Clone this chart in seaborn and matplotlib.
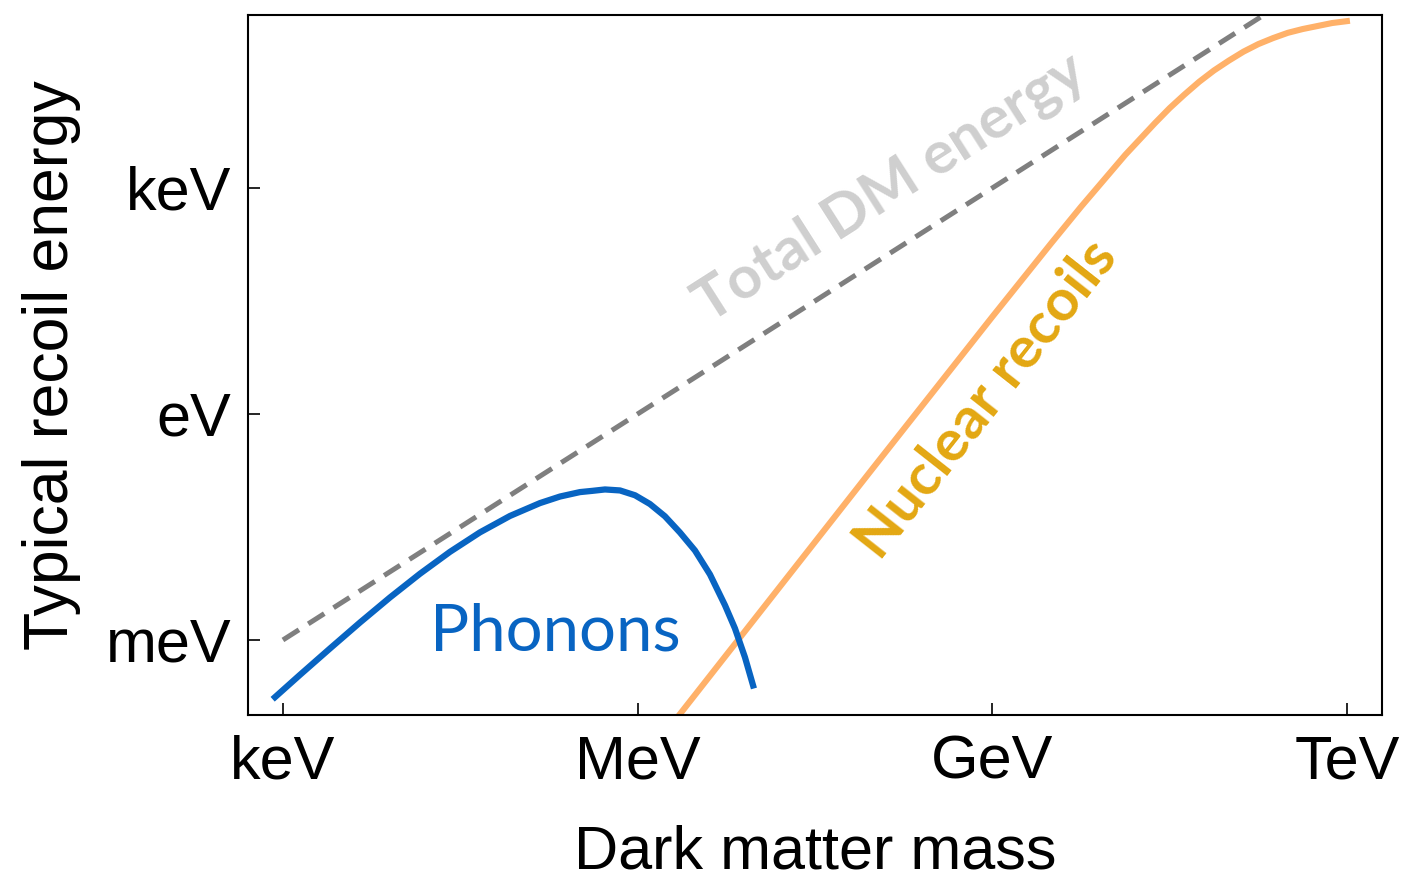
import numpy as np
import pandas as pd
import matplotlib
matplotlib.use("Agg")
import matplotlib.pyplot as plt
import seaborn as sns

# Dark matter mass and recoil energy, as log10 of the energy in eV
phonon_log_mass = [2.913, 3.144, 3.398, 3.651, 3.905, 4.159, 4.413, 4.666, 4.920, 5.174,
                   5.343, 5.512, 5.614, 5.724, 5.851, 5.978, 6.104, 6.231, 6.358, 6.485,
                   6.612, 6.739, 6.823, 6.908, 6.984]
phonon_log_energy = [-3.787, -3.463, -3.113, -2.769, -2.436, -2.121, -1.830, -1.572, -1.354, -1.183,
                     -1.096, -1.037, -1.021, -1.002, -1.015, -1.079, -1.195, -1.358, -1.573, -1.812,
                     -2.130, -2.539, -2.845, -3.230, -3.644]

nuclear_log_mass = [6.33, 7.00, 8.00, 9.00, 9.50, 9.75, 10.00, 10.125, 10.25, 10.375,
                    10.50, 10.625, 10.75, 10.875, 11.00, 11.125, 11.25, 11.375, 11.50, 11.625,
                    11.75, 11.875, 12.025]
nuclear_log_energy = [-4.04, -2.70, -0.70, 1.29, 2.27, 2.75, 3.21, 3.44, 3.65, 3.86,
                      4.06, 4.24, 4.41, 4.56, 4.69, 4.81, 4.91, 4.99, 5.06, 5.11,
                      5.15, 5.19, 5.22]

total_log_mass = [3.0, 12.0]
total_log_energy = [-3.0, 6.0]

x_tick_log = [3, 6, 9, 12]
x_tick_labels = ["keV", "MeV", "GeV", "TeV"]
y_tick_log = [-3, 0, 3]
y_tick_labels = ["meV", "eV", "keV"]

phonons = pd.DataFrame({"mass": np.power(10.0, phonon_log_mass),
                        "energy": np.power(10.0, phonon_log_energy)})
nuclear = pd.DataFrame({"mass": np.power(10.0, nuclear_log_mass),
                        "energy": np.power(10.0, nuclear_log_energy)})
total = pd.DataFrame({"mass": np.power(10.0, total_log_mass),
                      "energy": np.power(10.0, total_log_energy)})

sns.set_theme(style="white")
plt.rcParams["font.family"] = ["Liberation Sans", "DejaVu Sans"]

fig = plt.figure(figsize=(14.08, 8.8), dpi=100)
ax = fig.add_axes([0.1761, 0.1875, 0.8054, 0.7955])
ax.set_xscale("log")
ax.set_yscale("log")
ax.set_xlim(10 ** 2.704, 10 ** 12.296)
ax.set_ylim(10 ** -3.996, 10 ** 5.297)

BLUE = "#0864C2"
ORANGE_LINE = "#FFB169"
ORANGE_TEXT = "#E3A712"
GREY_LINE = "#7F7F7F"
GREY_TEXT = "#CFCFCF"

sns.lineplot(data=total, x="mass", y="energy", ax=ax, sort=False, color=GREY_LINE,
             linewidth=3.6, estimator=None)
ax.lines[-1].set_dashes((3.8, 2.2))
sns.lineplot(data=nuclear, x="mass", y="energy", ax=ax, sort=False, color=ORANGE_LINE,
             linewidth=4.4, estimator=None)
sns.lineplot(data=phonons, x="mass", y="energy", ax=ax, sort=False, color=BLUE,
             linewidth=4.5, estimator=None)
for ln in ax.lines:
    ln.set_solid_capstyle("butt")
    ln.set_dash_capstyle("butt")
    ln.set_solid_joinstyle("round")

ax.set_xticks(np.power(10.0, x_tick_log))
ax.set_xticklabels(x_tick_labels)
ax.set_yticks(np.power(10.0, y_tick_log))
ax.set_yticklabels(y_tick_labels)
ax.minorticks_off()
ax.tick_params(axis="both", direction="in", length=8.5, width=1.2, color="black",
               labelsize=44, labelcolor="black", left=True, bottom=True)
ax.tick_params(axis="x", pad=14)
ax.tick_params(axis="y", pad=12)
for sp in ax.spines.values():
    sp.set_color("black")
    sp.set_linewidth(1.5)

ax.set_xlabel("Dark matter mass", fontsize=44, color="black", labelpad=24)
ax.set_ylabel("Typical recoil energy", fontsize=45, color="black", labelpad=18)


def screen_angle(lx0, ly0, lx1, ly1):
    p0 = ax.transData.transform((10 ** lx0, 10 ** ly0))
    p1 = ax.transData.transform((10 ** lx1, 10 ** ly1))
    return np.degrees(np.arctan2(p1[1] - p0[1], p1[0] - p0[0]))


ang_total = screen_angle(total_log_mass[0], total_log_energy[0],
                         total_log_mass[1], total_log_energy[1])
ang_nuclear = screen_angle(nuclear_log_mass[1], nuclear_log_energy[1],
                           nuclear_log_mass[3], nuclear_log_energy[3])

label_font = ["Lato", "DejaVu Sans"]
ax.text(10 ** 5.30, 10 ** -2.89, "Phonons", color=BLUE, fontsize=47,
        family=label_font, ha="center", va="center")
ax.text(10 ** 8.14, 10 ** 2.99, "Total DM energy", color=GREY_TEXT, fontsize=43,
        family=label_font, fontweight="bold", ha="center", va="center",
        rotation=ang_total, rotation_mode="anchor")
ax.text(10 ** 8.95, 10 ** 0.19, "Nuclear recoils", color=ORANGE_TEXT, fontsize=42,
        family=label_font, fontweight="bold", ha="center", va="center",
        rotation=ang_nuclear, rotation_mode="anchor")

fig.savefig("out.png", dpi=100)
